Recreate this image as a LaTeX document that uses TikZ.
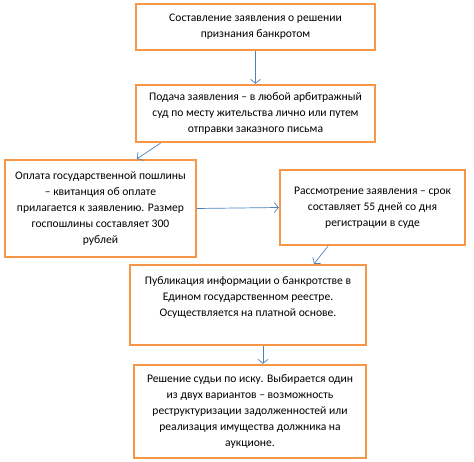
\documentclass[tikz,border=0pt]{standalone}
\usepackage{fontspec}
\setmainfont{Carlito}
\usetikzlibrary{arrows.meta}

\definecolor{boxorange}{RGB}{247,150,70}
\definecolor{arrowblue}{RGB}{79,129,189}

\tikzset{
  stepbox/.style={draw=boxorange, line width=2.4pt, fill=white, align=center,
    inner xsep=4pt, font=\fontsize{11.6}{16}\selectfont},
  flow/.style={arrowblue, line width=0.7pt, -{Straight Barb[length=4pt,width=10pt]}}
}

\begin{document}
\begin{tikzpicture}[x=1pt,y=1pt]
            \useasboundingbox (0,0) rectangle (474,462);

            % Boxes of the procedure
            \node [stepbox, minimum width=239pt, minimum height=46pt] (b1) at (255.5,435)
              {Составление заявления о решении\\признания банкротом};
            \node [stepbox, minimum width=239pt, minimum height=57pt] (b2) at (255.5,348.5)
              {Подача заявления -- в любой арбитражный\\суд по месту жительства лично или путем\\отправки заказного письма};
            \node [stepbox, minimum width=191pt, minimum height=97pt] (b3) at (100.5,253.5)
              {Оплата государственной пошлины\\-- квитанция об оплате\\прилагается к заявлению. Размер\\госпошлины составляет 300\\рублей};
            \node [stepbox, minimum width=185pt, minimum height=75pt] (b4) at (372.5,254.5)
              {Рассмотрение заявления -- срок\\составляет 55 дней со дня\\регистрации в суде};
            \node [stepbox, minimum width=236pt, minimum height=80pt] (b5) at (248,157)
              {Публикация информации о банкротстве в\\Едином государственном реестре.\\Осуществляется на платной основе.\\ \mbox{}};
            \node [stepbox, minimum width=232pt, minimum height=93pt] (b6) at (250,50.5)
              {Решение судьи по иску. Выбирается один\\из двух вариантов -- возможность\\реструктуризации задолженностей или\\реализация имущества должника на\\аукционе.};

            % Connectors
            \draw [flow] (b1.south) -- (b2.north);
            \draw [flow] ([xshift=-95pt]b2.south) -- ([xshift=36.5pt]b3.north);
            \draw [flow] (b3.east) -- (b4.west);
            \draw [flow] ([xshift=-44.5pt]b4.south) -- ([xshift=66pt]b5.north);
            \draw [flow] ([xshift=15pt]b5.south) -- ([xshift=13pt]b6.north);

\end{tikzpicture}
\end{document}
